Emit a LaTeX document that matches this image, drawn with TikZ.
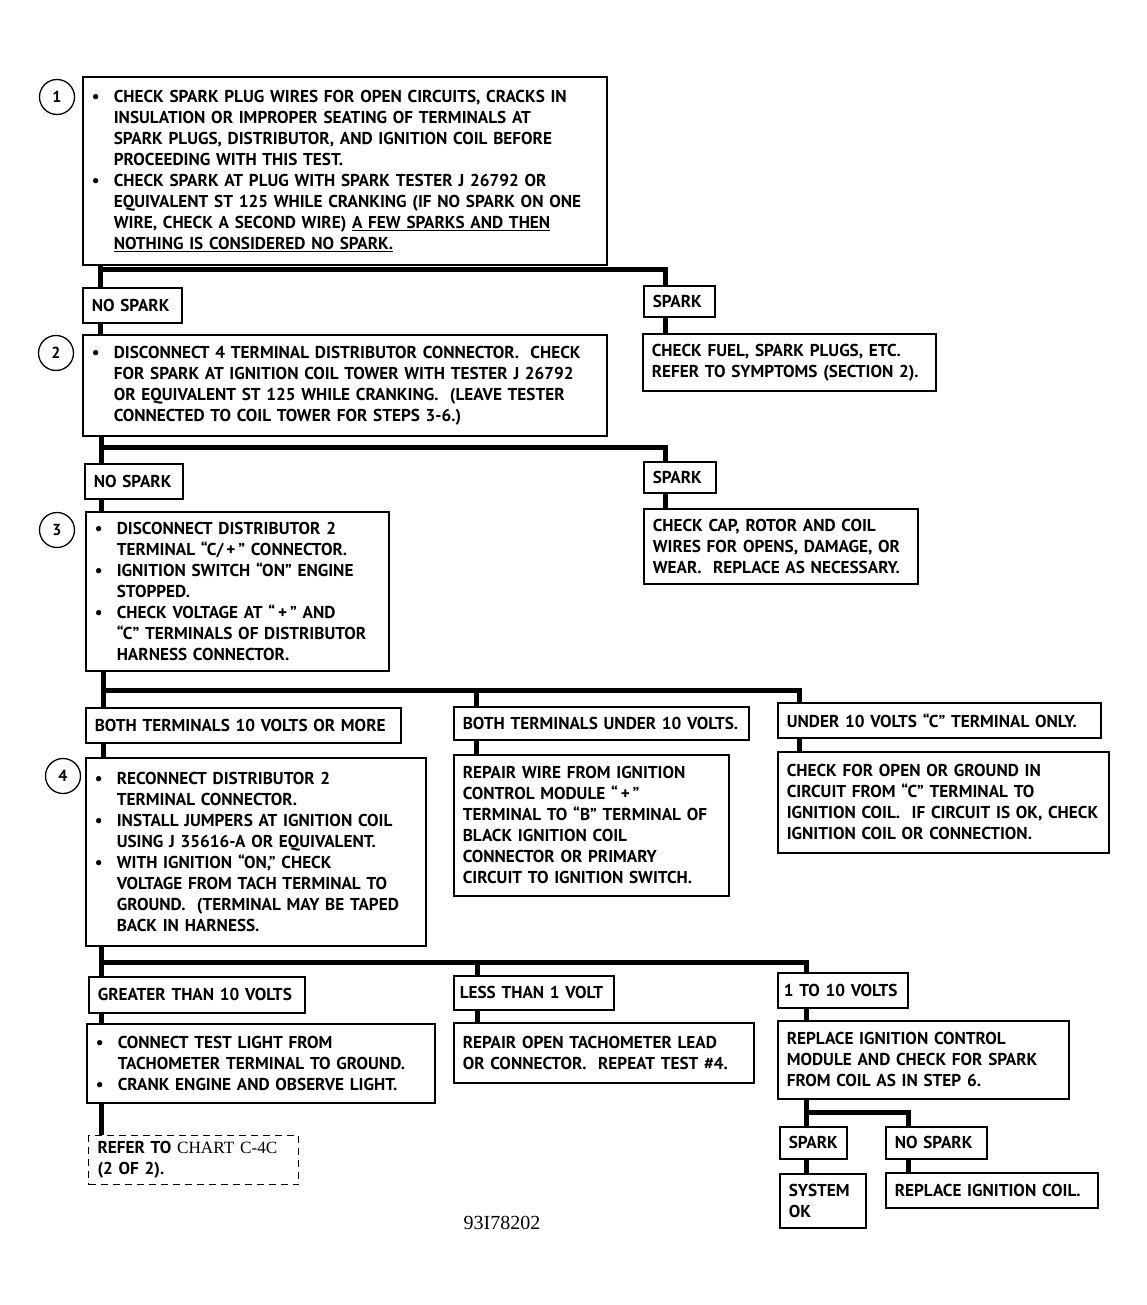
\documentclass[tikz,border=0pt]{standalone}
\usepackage{fontspec}
\setmainfont{PT Sans}
\newfontfamily\chartserif{Liberation Serif}
\usepackage{tikz}
\usetikzlibrary{positioning,calc}

\newcommand{\bul}{\makebox[22pt][l]{\textbullet}}
\newcommand{\ind}{\hspace*{22pt}}

\begin{document}
\begin{tikzpicture}[x=1pt, y=1pt,
    box/.style={draw, line width=1.6pt, anchor=north west, align=left, inner xsep=9pt, inner ysep=0pt,
                font=\fontsize{17.2}{21}\selectfont\bfseries},
    dashbox/.style={box, dash pattern=on 7pt off 5pt},
    conn/.style={line width=5pt, line join=miter},
    num/.style={draw, circle, line width=1.3pt, minimum size=35pt, inner sep=0pt,
                font=\fontsize{16}{16}\selectfont\bfseries}]
    \useasboundingbox (0,0) rectangle (1147,-1305);

    % Step 1
    \node[num] (c1) at (57,-97) {1};
    \node[box, text width=506pt, minimum height=188pt] (b1) at (82,-76) {%
        \bul CHECK SPARK PLUG WIRES FOR OPEN CIRCUITS, CRACKS IN\\
        \ind INSULATION OR IMPROPER SEATING OF TERMINALS AT\\
        \ind SPARK PLUGS, DISTRIBUTOR, AND IGNITION COIL BEFORE\\
        \ind PROCEEDING WITH THIS TEST.\\
        \bul CHECK SPARK AT PLUG WITH SPARK TESTER J 26792 OR\\
        \ind EQUIVALENT ST 125 WHILE CRANKING (IF NO SPARK ON ONE\\
        \ind WIRE, CHECK A SECOND WIRE) \underline{A FEW SPARKS AND THEN}\\
        \ind \underline{NOTHING IS CONSIDERED NO SPARK.}};
    \node[box, text width=81pt, minimum height=35pt] (ns1) at (82,-287) {NO SPARK};
    \node[box, text width=53pt, minimum height=31pt] (sp1) at (643,-285) {SPARK};
    \node[box, text width=275pt, minimum height=57pt] (fuel) at (642,-333) {%
        CHECK FUEL, SPARK PLUGS, ETC.\\
        REFER TO SYMPTOMS (SECTION 2).};

    % Step 2
    \node[num] (c2) at (56,-353) {2};
    \node[box, text width=506pt, minimum height=101pt] (b2) at (82,-334) {%
        \bul DISCONNECT 4 TERMINAL DISTRIBUTOR CONNECTOR.\ \ CHECK\\
        \ind FOR SPARK AT IGNITION COIL TOWER WITH TESTER J 26792\\
        \ind OR EQUIVALENT ST 125 WHILE CRANKING.\ \ (LEAVE TESTER\\
        \ind CONNECTED TO COIL TOWER FOR STEPS 3-6.)};
    \node[box, text width=80pt, minimum height=35pt] (ns2) at (84,-463) {NO SPARK};
    \node[box, text width=54pt, minimum height=31pt] (sp2) at (643,-461) {SPARK};
    \node[box, text width=256pt, minimum height=75pt] (cap) at (643,-508) {%
        CHECK CAP, ROTOR AND COIL\\
        WIRES FOR OPENS, DAMAGE, OR\\
        WEAR.\ \ REPLACE AS NECESSARY.};

    % Step 3
    \node[num] (c3) at (57,-530) {3};
    \node[box, text width=285pt, minimum height=159pt] (b3) at (85,-511) {%
        \bul DISCONNECT DISTRIBUTOR 2\\
        \ind TERMINAL “C/\,+\,” CONNECTOR.\\
        \bul IGNITION SWITCH “ON” ENGINE\\
        \ind STOPPED.\\
        \bul CHECK VOLTAGE AT “\,+\,” AND\\
        \ind “C” TERMINALS OF DISTRIBUTOR\\
        \ind HARNESS CONNECTOR.};
    \node[box, text width=297pt, minimum height=35pt] (v1) at (85,-707) {BOTH TERMINALS 10 VOLTS OR MORE};
    \node[box, text width=277pt, minimum height=33pt] (v2) at (453,-706) {BOTH TERMINALS UNDER 10 VOLTS.};
    \node[box, text width=305pt, minimum height=35pt] (v3) at (777,-702) {UNDER 10 VOLTS “C” TERMINAL ONLY.};
    \node[box, text width=257pt, minimum height=141pt] (wire) at (453,-754) {%
        REPAIR WIRE FROM IGNITION\\
        CONTROL MODULE “\,+\,”\\
        TERMINAL TO “B” TERMINAL OF\\
        BLACK IGNITION COIL\\
        CONNECTOR OR PRIMARY\\
        CIRCUIT TO IGNITION SWITCH.};
    \node[box, text width=313pt, minimum height=101pt] (open) at (777,-751) {%
        CHECK FOR OPEN OR GROUND IN\\
        CIRCUIT FROM “C” TERMINAL TO\\
        IGNITION COIL.\ \ IF CIRCUIT IS OK, CHECK\\
        IGNITION COIL OR CONNECTION.};

    % Step 4
    \node[num] (c4) at (63,-776) {4};
    \node[box, text width=322pt, minimum height=188pt] (b4) at (85,-757) {%
        \bul RECONNECT DISTRIBUTOR 2\\
        \ind TERMINAL CONNECTOR.\\
        \bul INSTALL JUMPERS AT IGNITION COIL\\
        \ind USING J 35616-A OR EQUIVALENT.\\
        \bul WITH IGNITION “ON,” CHECK\\
        \ind VOLTAGE FROM TACH TERMINAL TO\\
        \ind GROUND.\ \ (TERMINAL MAY BE TAPED\\
        \ind BACK IN HARNESS.};
    \node[box, text width=198pt, minimum height=36pt] (g1) at (88,-976) {GREATER THAN 10 VOLTS};
    \node[box, inner xsep=6pt, text width=148pt, minimum height=34pt] (g2) at (453,-975) {LESS THAN 1 VOLT};
    \node[box, inner xsep=6pt, text width=118pt, minimum height=35pt] (g3) at (777,-972) {1 TO 10 VOLTS};
    \node[box, text width=330pt, minimum height=79pt] (light) at (86,-1023) {%
        \bul CONNECT TEST LIGHT FROM\\
        \ind TACHOMETER TERMINAL TO GROUND.\\
        \bul CRANK ENGINE AND OBSERVE LIGHT.};
    \node[box, text width=282pt, minimum height=60pt] (tach) at (453,-1022) {%
        REPAIR OPEN TACHOMETER LEAD\\
        OR CONNECTOR.\ \ REPEAT TEST \#4.};
    \node[box, text width=273pt, minimum height=78pt] (icm) at (777,-1020) {%
        REPLACE IGNITION CONTROL\\
        MODULE AND CHECK FOR SPARK\\
        FROM COIL AS IN STEP 6.};
    \node[dashbox, line width=1.2pt, text width=192pt, minimum height=49pt] (refer) at (88,-1135) {%
        REFER TO {\chartserif\mdseries CHART C-4C}\\
        (2 OF 2).};
    \node[box, text width=49pt, minimum height=32pt] (sp3) at (779,-1126) {SPARK};
    \node[box, text width=83pt, minimum height=32pt] (ns3) at (885,-1126) {NO SPARK};
    \node[box, text width=68pt, minimum height=54pt] (ok) at (779,-1173) {SYSTEM\\OK};
    \node[box, text width=194pt, minimum height=35pt] (coil) at (885,-1172) {REPLACE IGNITION COIL.};

    % Figure number
    \node[font=\chartserif\fontsize{20}{20}\selectfont] (fig) at (502,-1223) {93I78202};

    % Fork after step 1
    \coordinate (k1) at (100,-270);
    \coordinate (k1r) at (665,-270);
    \draw[conn] (b1.south -| k1) -- (ns1.north -| k1);
    \draw[conn] (k1) -- (k1r) -- (sp1.north -| k1r);
    \draw[conn] (ns1.south -| k1) -- (b2.north -| k1);
    \draw[conn] (sp1.south -| k1r) -- (fuel.north -| k1r);

    % Fork after step 2
    \coordinate (k2) at (101,-447);
    \coordinate (k2r) at (665,-447);
    \draw[conn] (b2.south -| k2) -- (ns2.north -| k2);
    \draw[conn] (k2) -- (k2r) -- (sp2.north -| k2r);
    \draw[conn] (ns2.south -| k2) -- (b3.north -| k2);
    \draw[conn] (sp2.south -| k2r) -- (cap.north -| k2r);

    % Fork after step 3
    \coordinate (k3) at (103,-690);
    \coordinate (k3m) at (476,-690);
    \coordinate (k3r) at (799,-690);
    \draw[conn] (b3.south -| k3) -- (v1.north -| k3);
    \draw[conn] (k3) -- (k3r) -- (v3.north -| k3r);
    \draw[conn] (k3m) -- (v2.north -| k3m);
    \draw[conn] (v1.south -| k3) -- (b4.north -| k3);
    \draw[conn] (v2.south -| k3m) -- (wire.north -| k3m);
    \draw[conn] (v3.south -| k3r) -- (open.north -| k3r);

    % Fork after step 4
    \coordinate (k4) at (101,-962);
    \coordinate (k4m) at (477,-962);
    \coordinate (k4r) at (806,-962);
    \draw[conn] (b4.south -| k4) -- (g1.north -| k4);
    \draw[conn] (k4) -- (k4r) -- (g3.north -| k4r);
    \draw[conn] (k4m) -- (g2.north -| k4m);
    \draw[conn] (g1.south -| k4) -- (light.north -| k4);
    \draw[conn] (g2.south -| k4m) -- (tach.north -| k4m);
    \draw[conn] (g3.south -| k4r) -- (icm.north -| k4r);
    \draw[conn] (light.south -| k4) -- (refer.north -| k4);

    % Fork after module check
    \coordinate (k5) at (806,-1112);
    \coordinate (k5r) at (908,-1112);
    \draw[conn] (icm.south -| k5) -- (sp3.north -| k5);
    \draw[conn] (k5) -- (k5r) -- (ns3.north -| k5r);
    \draw[conn] (sp3.south -| k5) -- (ok.north -| k5);
    \draw[conn] (ns3.south -| k5r) -- (coil.north -| k5r);
\end{tikzpicture}
\end{document}
